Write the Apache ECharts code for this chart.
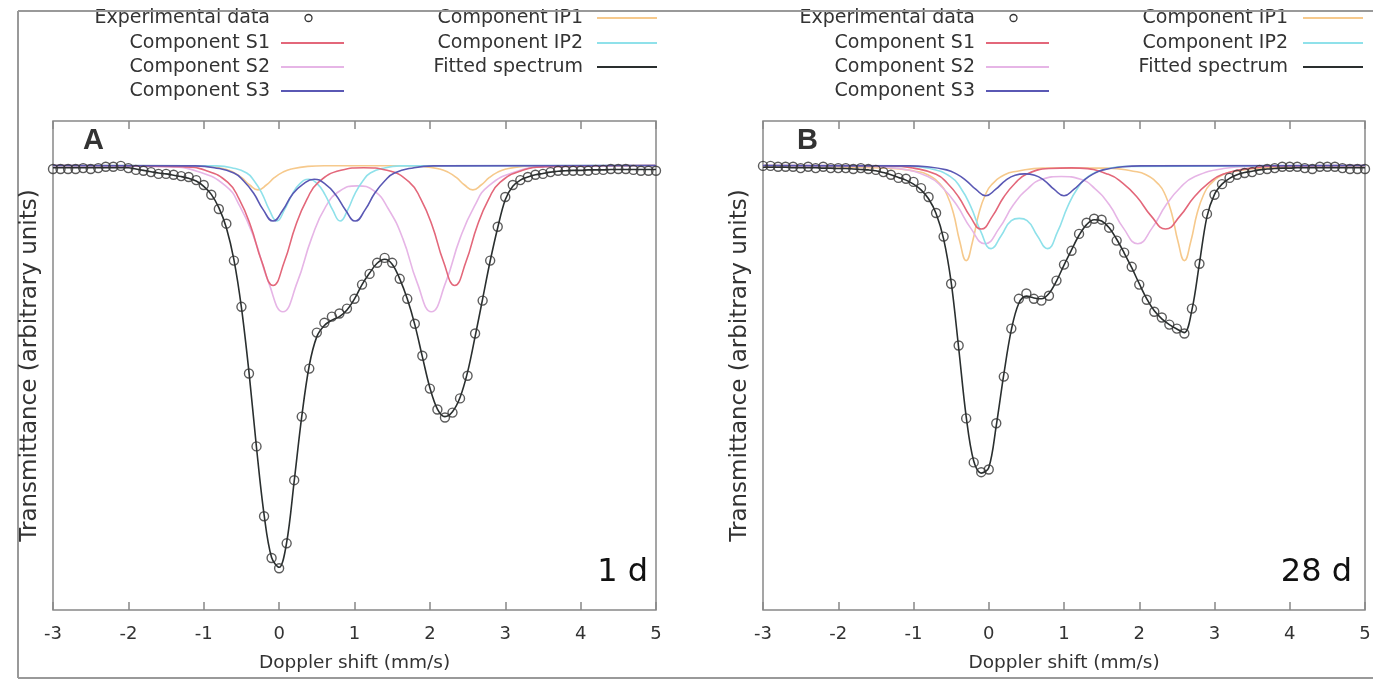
<!DOCTYPE html>
<html><head><meta charset="utf-8">
<script src="https://cdn.jsdelivr.net/npm/echarts/dist/echarts.min.js"></script>
<style>html,body{margin:0;padding:0;background:#fff}#c{width:1373px;height:680px}</style>
</head><body><div id="c"></div>
<script>
// Doppler velocity grid (mm/s)
const velocity = [-3.0,-2.9,-2.8,-2.7,-2.6,-2.5,-2.4,-2.3,-2.2,-2.1,-2.0,-1.9,-1.8,-1.7,-1.6,-1.5,-1.4,-1.3,-1.2,-1.1,-1.0,-0.9,-0.8,-0.7,-0.6,-0.5,-0.4,-0.3,-0.2,-0.1,0.0,0.1,0.2,0.3,0.4,0.5,0.6,0.7,0.8,0.9,1.0,1.1,1.2,1.3,1.4,1.5,1.6,1.7,1.8,1.9,2.0,2.1,2.2,2.3,2.4,2.5,2.6,2.7,2.8,2.9,3.0,3.1,3.2,3.3,3.4,3.5,3.6,3.7,3.8,3.9,4.0,4.1,4.2,4.3,4.4,4.5,4.6,4.7,4.8,4.9,5.0];
const xTicks = ['-3','-2','-1','0','1','2','3','4','5'];

// Panel A (1 d): transmittance, baseline = 100
const expA = [99.2,99.2,99.2,99.2,99.4,99.2,99.4,99.7,99.7,99.9,
 99.4,99.0,98.8,98.5,98.1,98.1,97.9,97.6,97.4,96.7,
 95.6,93.4,90.2,86.9,78.6,68.2,53.2,36.8,21.1,11.7,
 9.4,15.0,29.2,43.5,54.3,62.4,64.6,66.0,66.7,67.8,
 70.0,73.2,75.6,78.1,79.2,78.1,74.5,70.0,64.4,57.2,
 49.8,45.1,43.3,44.4,47.6,52.7,62.2,69.6,78.6,86.2,
 92.9,95.6,96.7,97.4,97.9,98.1,98.5,98.8,98.8,98.8,
 98.8,98.8,99.0,99.0,99.2,99.2,99.2,99.0,98.8,98.8,
 98.8];
const fitA = [99.5,99.5,99.5,99.5,99.5,99.5,99.5,99.5,99.5,99.5,
 99.5,99.2,98.9,98.6,98.3,98.1,97.8,97.5,97.1,96.5,
 95.3,93.5,90.5,86.0,78.8,68.0,53.5,36.5,21.5,11.8,
 9.6,15.2,29.0,43.5,55.0,61.5,64.0,65.2,66.0,67.5,
 70.0,73.2,75.8,78.0,78.9,77.8,74.5,70.0,64.2,57.0,
 50.0,45.2,43.5,44.6,47.8,53.5,61.5,70.0,78.5,86.0,
 92.3,95.3,96.7,97.4,97.9,98.2,98.5,98.7,98.8,98.9,
 98.9,99.0,99.0,99.0,99.1,99.1,99.1,99.1,99.1,99.1,
 99.1];
const s1A = [[-3,100],[-1.28,99.7],[-0.98,98.9],[-0.68,96.2],[-0.53,92.4],[-0.38,86.5],[-0.23,78.4],[-0.08,73],[0.07,78.4],[0.22,86.5],[0.37,92.4],[0.52,96.2],[0.82,98.9],[1.12,99.5],[1.43,98.9],[1.73,96.2],[1.88,92.4],[2.03,86.5],[2.18,78.4],[2.33,73],[2.48,78.4],[2.63,86.5],[2.78,92.4],[2.93,96.2],[3.23,98.9],[3.53,99.7],[5,100]];
const s2A = [[-3,100],[-1.47,99.7],[-1.09,98.7],[-0.71,95.4],[-0.52,90.8],[-0.33,83.6],[-0.14,73.7],[0.05,67.1],[0.24,73.7],[0.43,83.6],[0.62,90.8],[0.81,94.3],[1.035,95.4],[1.26,94.3],[1.45,90.2],[1.64,83.6],[1.83,73.7],[2.02,67.1],[2.21,73.7],[2.4,83.6],[2.59,90.8],[2.78,95.4],[3.16,98.7],[3.54,99.7],[5,100]];
const s3A = [[-3,100],[-1.12,99.9],[-0.86,99.5],[-0.6,98.3],[-0.47,96.5],[-0.34,93.8],[-0.21,90],[-0.08,87.5],[0.05,90],[0.18,93.6],[0.31,95.7],[0.465,96.9],[0.62,95.7],[0.75,93.4],[0.88,90],[1.01,87.5],[1.14,90],[1.27,93.8],[1.4,96.5],[1.53,98.3],[1.79,99.5],[2.05,99.9],[5,100]];
const ip1A = [[-3,100],[-1.16,99.95],[-0.94,99.8],[-0.72,99.2],[-0.61,98.5],[-0.5,97.3],[-0.39,95.6],[-0.28,94.5],[-0.17,95.6],[-0.06,97.3],[0.05,98.5],[0.16,99.2],[0.38,99.8],[0.6,99.95],[1.69,99.95],[1.91,99.8],[2.13,99.2],[2.24,98.5],[2.35,97.3],[2.46,95.6],[2.57,94.5],[2.68,95.6],[2.79,97.3],[2.9,98.5],[3.01,99.2],[3.23,99.8],[3.45,99.95],[5,100]];
const ip2A = [[-3,100],[-0.83,99.9],[-0.63,99.5],[-0.43,98.3],[-0.33,96.5],[-0.23,93.8],[-0.13,90],[-0.03,87.5],[0.07,90],[0.17,93.4],[0.27,95.8],[0.39,96.9],[0.51,95.8],[0.61,93.4],[0.71,90],[0.81,87.5],[0.91,90],[1.01,93.8],[1.11,96.5],[1.21,98.3],[1.41,99.5],[1.61,99.9],[5,100]];

// Panel B (28 d)
const expB = [99.9,99.9,99.7,99.7,99.7,99.4,99.7,99.4,99.7,99.4,
 99.4,99.4,99.2,99.4,99.2,99.0,98.5,97.9,97.2,97.0,
 96.3,94.9,92.9,89.3,84.0,73.4,59.5,43.1,33.2,31.0,
 31.6,42.0,52.5,63.3,70.0,71.2,70.0,69.6,70.7,74.1,
 77.7,80.8,84.6,87.1,88.0,87.8,86.0,83.1,80.4,77.2,
 73.2,69.8,67.1,65.8,64.2,63.3,62.2,67.8,77.9,89.1,
 93.4,95.8,97.2,97.9,98.3,98.5,99.0,99.2,99.4,99.7,
 99.7,99.7,99.4,99.2,99.7,99.7,99.7,99.4,99.2,99.2,
 99.2];
const fitB = [99.6,99.6,99.6,99.6,99.5,99.5,99.5,99.5,99.4,99.4,
 99.3,99.3,99.2,99.1,99.0,98.8,98.4,97.9,97.3,96.7,
 95.8,94.5,92.5,89.2,83.5,73.8,59.0,43.5,33.5,30.8,
 32.0,41.5,53.0,63.0,69.0,70.6,70.2,70.0,71.2,74.0,
 77.6,81.0,84.3,86.7,87.8,87.5,86.0,83.4,80.3,77.0,
 73.4,70.0,67.3,65.5,64.2,63.2,62.4,67.5,78.0,88.5,
 93.5,95.8,97.1,97.9,98.4,98.7,99.0,99.2,99.3,99.4,
 99.4,99.5,99.5,99.5,99.5,99.5,99.5,99.5,99.5,99.5,
 99.5];
const s1B = [[-3,100],[-1.3,99.9],[-1.0,99.4],[-0.7,98],[-0.55,96],[-0.4,92.9],[-0.25,88.6],[-0.1,85.7],[0.05,88.6],[0.2,92.9],[0.35,96],[0.5,98],[0.8,99.3],[1.1,99.45],[1.21,99.4],[1.59,98],[1.78,96],[1.97,92.9],[2.16,88.6],[2.35,85.7],[2.54,88.6],[2.73,92.9],[2.92,96],[3.11,98],[3.49,99.4],[3.87,99.9],[5,100]];
const s2B = [[-3,100],[-1.57,99.8],[-1.19,99.3],[-0.81,97.5],[-0.62,95.1],[-0.43,91.2],[-0.24,85.9],[-0.05,82.4],[0.14,85.9],[0.33,91.2],[0.52,94.8],[0.71,96.9],[0.965,97.5],[1.22,96.9],[1.41,94.8],[1.6,91.2],[1.79,85.9],[1.98,82.4],[2.17,85.9],[2.36,91.2],[2.55,95.1],[2.74,97.5],[3.12,99.3],[3.5,99.8],[5,100]];
const s3B = [[-3,100],[-1.08,99.9],[-0.82,99.7],[-0.56,99],[-0.43,98.1],[-0.3,96.6],[-0.17,94.6],[-0.04,93.2],[0.09,94.6],[0.22,96.6],[0.35,97.8],[0.48,98.1],[0.61,97.8],[0.74,96.6],[0.87,94.6],[1.0,93.2],[1.13,94.6],[1.26,96.6],[1.39,98.1],[1.52,99],[1.78,99.7],[2.04,99.9],[5,100]];
const ip1B = [[-3,99.9],[-1.32,99.4],[-0.98,98.7],[-0.81,97.9],[-0.64,95.7],[-0.555,93.4],[-0.47,89.3],[-0.385,82.9],[-0.3,78.6],[-0.215,82.9],[-0.13,89.3],[-0.045,93.4],[0.04,95.7],[0.21,97.9],[0.38,98.7],[0.72,99.4],[1.15,99.4],[1.58,99.4],[1.92,98.7],[2.09,97.9],[2.26,95.7],[2.345,93.4],[2.43,89.3],[2.515,82.9],[2.6,78.6],[2.685,82.9],[2.77,89.3],[2.855,93.4],[2.94,95.7],[3.11,97.9],[3.28,98.7],[3.62,99.4],[5,99.9]];
const ip2B = [[-3,100],[-1.05,99.8],[-0.78,99.3],[-0.51,97.5],[-0.375,95],[-0.24,90.8],[-0.105,85.1],[0.03,81.3],[0.165,84.2],[0.3,87.6],[0.405,88.1],[0.51,87.6],[0.645,84.2],[0.78,81.3],[0.915,85.1],[1.05,90.8],[1.185,95],[1.32,97.5],[1.59,99.3],[1.86,99.8],[5,100]];

const seriesNames = ['Experimental data','Component S1','Component S2','Component S3','Component IP1','Component IP2','Fitted spectrum'];
const panelLabels = ['A','B'];
const ageLabels = ['1 d','28 d'];

const COLORS = {
  'Component S1':'#e3677a',
  'Component S2':'#e6b5e6',
  'Component S3':'#5a58b4',
  'Component IP1':'#f6c98c',
  'Component IP2':'#8fe1ea',
  'Fitted spectrum':'#2a2f2f',
  'Experimental data':'#333'
};
const FONT = 'DejaVu Sans';
const TXT = '#333';

const panels = [
  {exp: expA, fit: fitA, comps: [s1A, s2A, s3A, ip1A, ip2A]},
  {exp: expB, fit: fitB, comps: [s1B, s2B, s3B, ip1B, ip2B]}
];

const grids = [
  {left: 53, right: 717, top: 121, bottom: 70},
  {left: 763, right: 8, top: 121, bottom: 70}
];

const xAxes = [], yAxes = [], series = [];
panels.forEach((p, i) => {
  xAxes.push({
    gridIndex: i, type: 'value', min: -3, max: 5, interval: 1,
    name: 'Doppler shift (mm/s)', nameLocation: 'middle', nameGap: 44,
    nameTextStyle: {fontFamily: FONT, fontSize: 18.5, color: TXT},
    axisLine: {show: false}, splitLine: {show: false},
    axisTick: {show: true, inside: true, length: 8, lineStyle: {color: '#888', width: 1.5}},
    axisLabel: {show: true, margin: 15, fontFamily: FONT, fontSize: 18, color: TXT,
      formatter: v => xTicks[Math.round(v) + 3]}
  });
  xAxes.push({
    gridIndex: i, type: 'value', min: -3, max: 5, interval: 1, position: 'top',
    axisLine: {show: false}, splitLine: {show: false}, axisLabel: {show: false},
    axisTick: {show: true, inside: true, length: 8, lineStyle: {color: '#888', width: 1.5}}
  });
  yAxes.push({
    gridIndex: i, type: 'value', min: 0, max: 110,
    name: 'Transmittance (arbitrary units)', nameLocation: 'middle', nameGap: 11, nameRotate: 90,
    nameTextStyle: {fontFamily: FONT, fontSize: 23, color: TXT},
    axisLine: {show: false}, axisTick: {show: false}, axisLabel: {show: false}, splitLine: {show: false}
  });
  const compNames = ['Component S1','Component S2','Component S3','Component IP1','Component IP2'];
  const zOrder = [3, 2, 4, 1, 2];
  p.comps.forEach((d, k) => {
    series.push({
      name: compNames[k], type: 'line', xAxisIndex: i * 2, yAxisIndex: i,
      data: d, smooth: 0.5, symbol: 'none', showSymbol: false, silent: true,
      lineStyle: {color: COLORS[compNames[k]], width: 1.6}, z: zOrder[k]
    });
  });
  series.push({
    name: 'Fitted spectrum', type: 'line', xAxisIndex: i * 2, yAxisIndex: i,
    data: velocity.map((v, j) => [v, p.fit[j]]), smooth: 0.35,
    symbol: 'none', showSymbol: false, silent: true,
    lineStyle: {color: COLORS['Fitted spectrum'], width: 1.6}, z: 5
  });
  series.push({
    name: 'Experimental data', type: 'scatter', xAxisIndex: i * 2, yAxisIndex: i,
    data: velocity.map((v, j) => [v, p.exp[j]]), symbol: 'circle', symbolSize: 9, silent: true,
    itemStyle: {color: 'rgba(0,0,0,0)', borderColor: '#333', borderWidth: 1.4}, z: 6
  });
});

// legend drawn as graphic (two columns per panel)
const graphic = [];
const legendCols = [
  {textRight: [270, 975], lineX: [[281, 344], [986, 1049]], names: seriesNames.slice(0, 4)},
  {textRight: [583, 1288], lineX: [[597, 657], [1303, 1363]], names: seriesNames.slice(4)}
];
const rowY = [18, 43, 67, 91];
[0, 1].forEach(pi => {
  legendCols.forEach(col => {
    col.names.forEach((nm, r) => {
      graphic.push({type: 'text', style: {text: nm, x: col.textRight[pi], y: rowY[r], align: 'right',
        verticalAlign: 'middle', fontFamily: FONT, fontSize: 19, fill: TXT}});
      const [x1, x2] = col.lineX[pi];
      if (nm === 'Experimental data') {
        graphic.push({type: 'circle', shape: {cx: (x1 + x2) / 2 - 4, cy: rowY[r], r: 3.5},
          style: {fill: 'none', stroke: '#333', lineWidth: 1.3}});
      } else {
        graphic.push({type: 'line', shape: {x1, y1: rowY[r], x2, y2: rowY[r]},
          style: {stroke: COLORS[nm], lineWidth: 1.8}});
      }
    });
  });
  graphic.push({type: 'text', style: {text: panelLabels[pi], x: pi ? 797 : 83, y: 141, verticalAlign: 'middle',
    fontFamily: 'Liberation Sans', fontWeight: 'bold', fontSize: 29, fill: '#333'}});
  graphic.push({type: 'text', style: {text: ageLabels[pi], x: pi ? 1352 : 648, y: 573, align: 'right',
    verticalAlign: 'middle', fontFamily: FONT, fontSize: 32, fill: '#111'}});
});
// outer figure frame
graphic.push({type: 'line', shape: {x1: 18, y1: 11, x2: 1373, y2: 11}, style: {stroke: '#999', lineWidth: 2}});
graphic.push({type: 'line', shape: {x1: 18, y1: 11, x2: 18, y2: 678}, style: {stroke: '#999', lineWidth: 2}});
graphic.push({type: 'line', shape: {x1: 18, y1: 678, x2: 1373, y2: 678}, style: {stroke: '#999', lineWidth: 2}});

const chart = echarts.init(document.getElementById('c'), null, {renderer: 'canvas'});
chart.setOption({
  animation: false,
  backgroundColor: '#fff',
  textStyle: {fontFamily: FONT},
  grid: grids.map(g => Object.assign({show: true, borderColor: '#888', borderWidth: 1.5,
    backgroundColor: 'transparent', containLabel: false, outerBoundsMode: 'none'}, g)),
  xAxis: xAxes,
  yAxis: yAxes,
  series: series,
  graphic: graphic
});
</script>
</body></html>
